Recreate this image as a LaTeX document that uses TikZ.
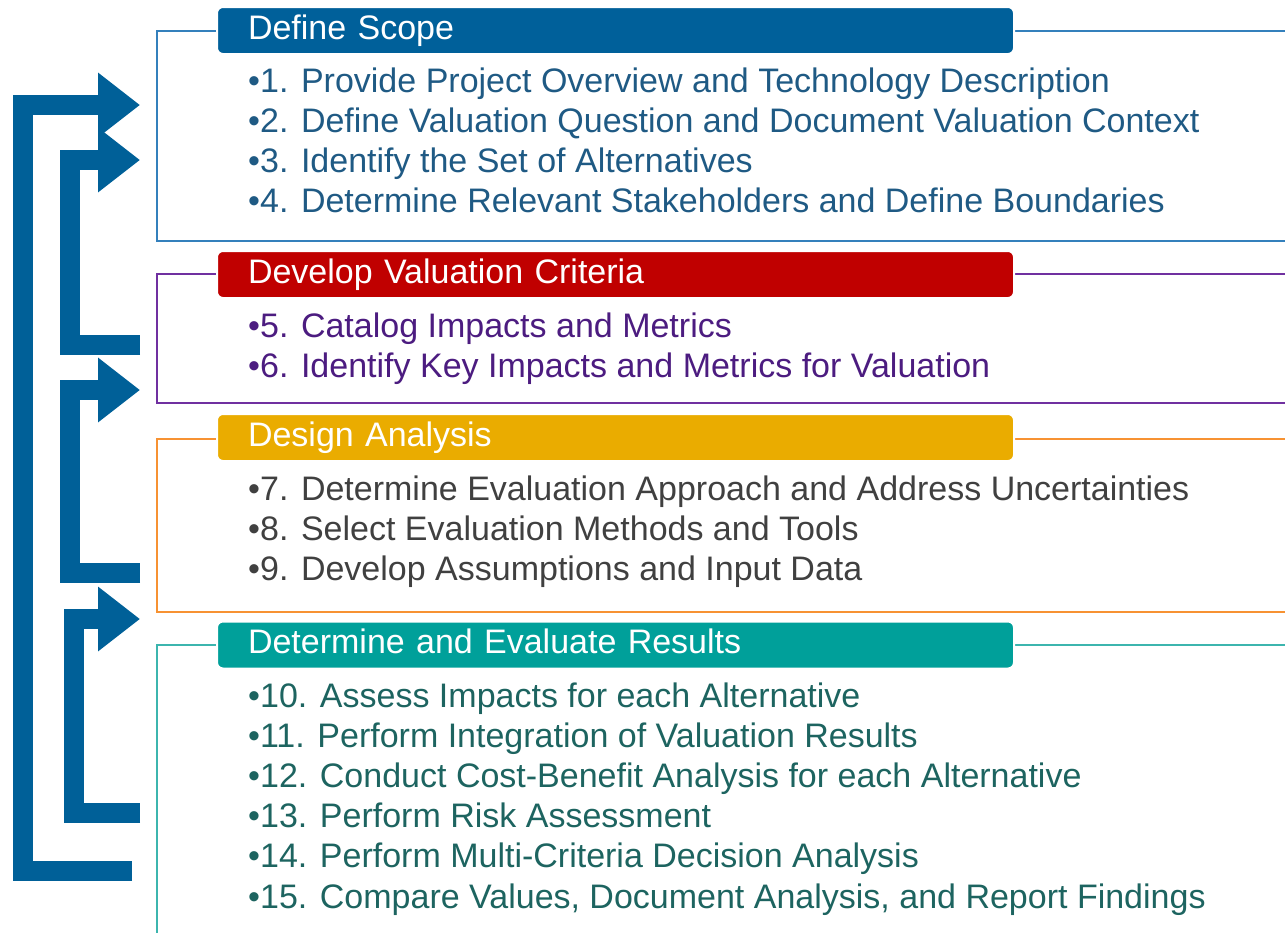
\documentclass[tikz,border=0pt]{standalone}
\usepackage{fontspec}
\setmainfont{Liberation Sans}
\usetikzlibrary{positioning,arrows.meta}
\definecolor{loopblue}{RGB}{0,96,152}
\definecolor{scopefill}{RGB}{0,96,154}
\definecolor{scopeline}{RGB}{52,128,188}
\definecolor{scopetext}{RGB}{31,90,132}
\definecolor{critfill}{RGB}{192,0,0}
\definecolor{critline}{RGB}{112,48,160}
\definecolor{crittext}{RGB}{76,28,128}
\definecolor{designfill}{RGB}{234,172,0}
\definecolor{designline}{RGB}{247,146,50}
\definecolor{designtext}{RGB}{64,64,64}
\definecolor{resfill}{RGB}{0,160,154}
\definecolor{resline}{RGB}{60,181,174}
\definecolor{restext}{RGB}{29,100,96}
\tikzset{
  tab/.style={draw=white,line width=2pt,rounded corners=6pt,anchor=west,
    minimum height=47pt,text width=735pt,inner xsep=31pt,align=left,
    text height=24.5pt,text depth=7.5pt,text=white,
    font=\fontsize{34}{40}\selectfont},
  item/.style={anchor=base west,inner sep=0pt,
    font=\fontsize{34}{40}\selectfont},
  frame/.style={line width=1.5pt},
  loop/.style={loopblue,line width=20pt,
    -{Triangle[length=42pt,width=62pt]}}
}
\begin{document}
\begin{tikzpicture}[x=1pt,y=-1pt]
  \useasboundingbox (0,0) rectangle (1285,932);
  % frames
  \draw[frame,scopeline] (1290,31) -- (157,31) -- (157,241) -- (1290,241);
  \draw[frame,critline] (1290,274) -- (157,274) -- (157,403) -- (1290,403);
  \draw[frame,designline] (1290,439) -- (157,439) -- (157,612) -- (1290,612);
  \draw[frame,resline] (1290,645) -- (157,645) -- (157,940);
  % tabs
  \node (scope) [tab,fill=scopefill] at (216,30.5) {Define Scope};
  \node (crit) [tab,fill=critfill] at (216,274.5) {Develop Valuation Criteria};
  \node (design) [tab,fill=designfill] at (216,437.5) {Design Analysis};
  \node (res) [tab,fill=resfill] at (216,645) {Determine and Evaluate Results};
  % steps
  \foreach \t [count=\i from 0] in {1. Provide Project Overview and Technology Description,
    2. Define Valuation Question and Document Valuation Context,
    3. Identify the Set of Alternatives,
    4. Determine Relevant Stakeholders and Define Boundaries}
    \node (s\i) [item,text=scopetext] at (248,92+40.3*\i) {•\t};
  \foreach \t [count=\i from 0] in {5. Catalog Impacts and Metrics,
    6. Identify Key Impacts and Metrics for Valuation}
    \node (c\i) [item,text=crittext] at (248,337+40*\i) {•\t};
  \foreach \t [count=\i from 0] in {7. Determine Evaluation Approach and Address Uncertainties,
    8. Select Evaluation Methods and Tools,
    9. Develop Assumptions and Input Data}
    \node (d\i) [item,text=designtext] at (248,500+40*\i) {•\t};
  \foreach \t [count=\i from 0] in {10. Assess Impacts for each Alternative,
    11. Perform Integration of Valuation Results,
    12. Conduct Cost-Benefit Analysis for each Alternative,
    13. Perform Risk Assessment,
    14. Perform Multi-Criteria Decision Analysis,
    {15. Compare Values, Document Analysis, and Report Findings}}
    \node (r\i) [item,text=restext] at (248,707+40.2*\i) {•\t};
  % feedback loops
  \coordinate (out1) at (132,871);
  \coordinate (in1) at (140,105);
  \coordinate (out2) at (140,345);
  \coordinate (in2) at (140,160);
  \coordinate (out3) at (140,573);
  \coordinate (in3) at (140,390);
  \coordinate (out4) at (140,813);
  \coordinate (in4) at (140,619);
  \draw[loop] (out1) -- (23,871) -- (23,105) -- (in1);
  \draw[loop] (out2) -- (69.5,345) -- (69.5,160) -- (in2);
  \draw[loop] (out3) -- (69.5,573) -- (69.5,390) -- (in3);
  \draw[loop] (out4) -- (74,813) -- (74,619) -- (in4);
\end{tikzpicture}
\end{document}
